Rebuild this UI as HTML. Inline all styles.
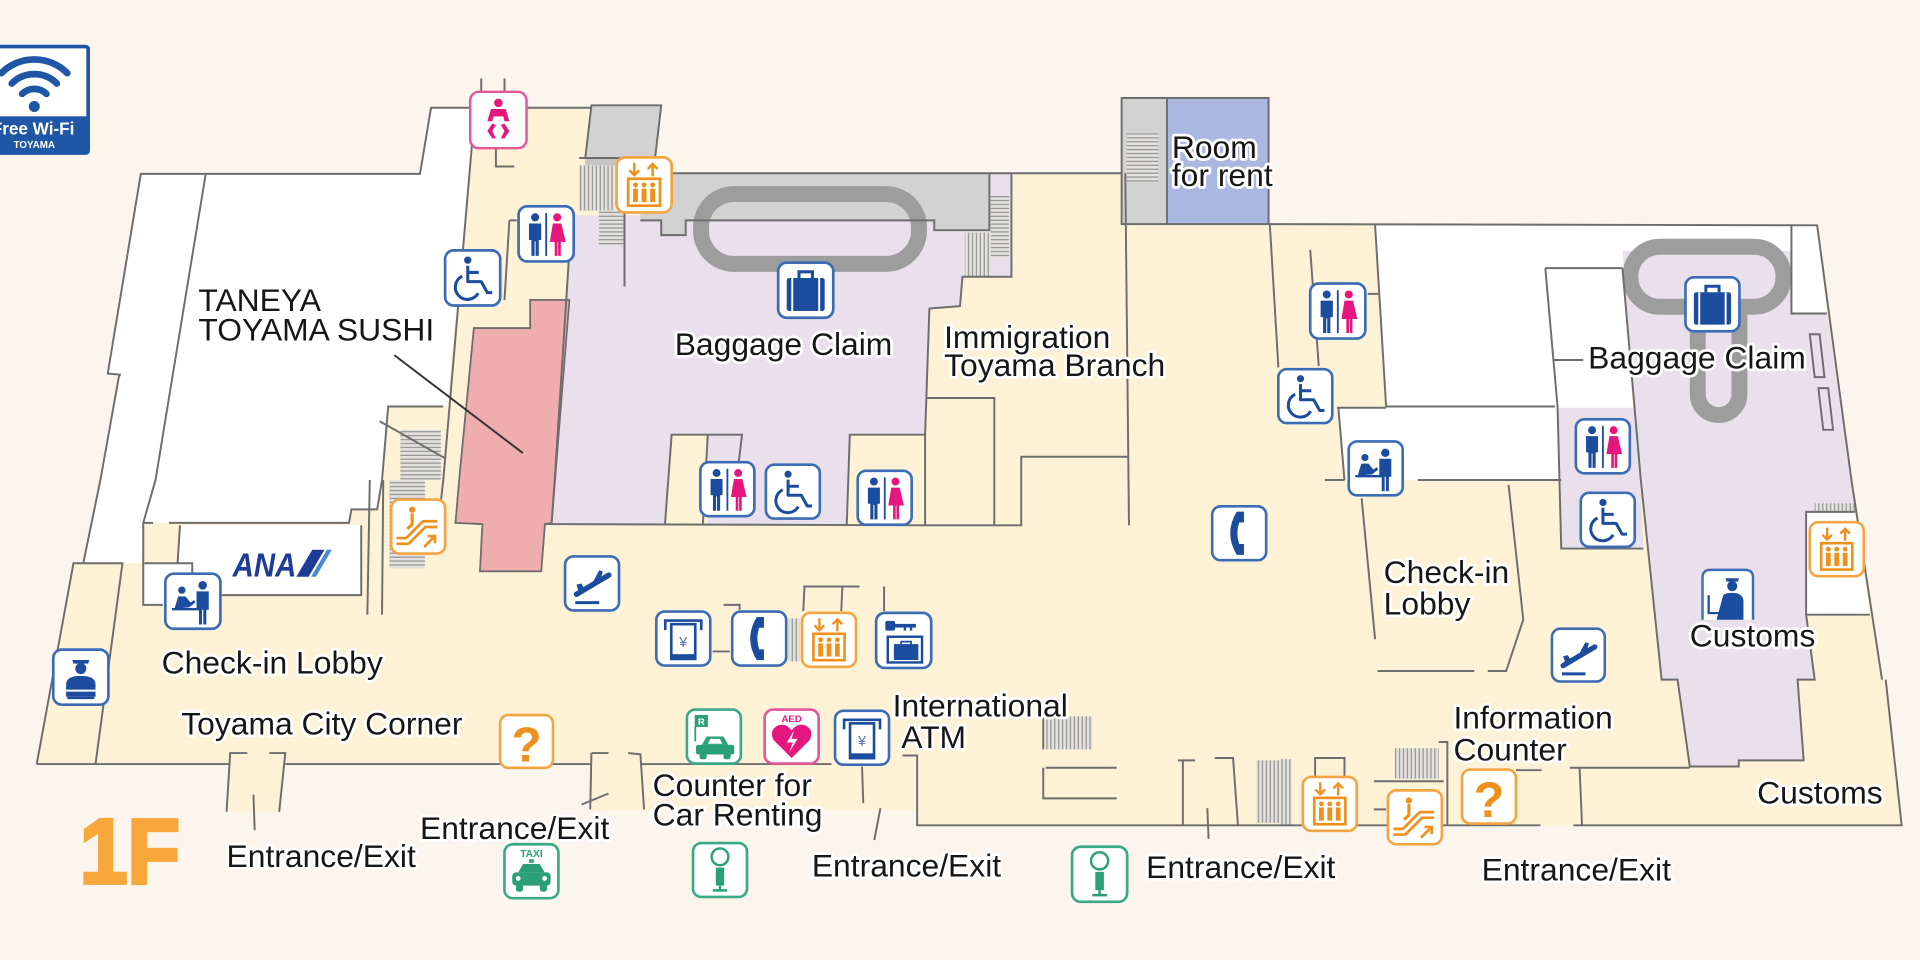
<!DOCTYPE html>
<html><head><meta charset="utf-8"><style>
html,body{margin:0;padding:0;background:#fcf5ee;}
svg{display:block;}
.lb{font-family:"Liberation Sans",Arial,sans-serif;font-size:26px;fill:#161616;stroke:#fff;stroke-width:4.5;paint-order:stroke;stroke-linejoin:round;}
.w{fill:none;stroke:#6d6d6d;stroke-width:1.6;stroke-linejoin:miter;}
</style></head><body>
<svg width="1920" height="960" viewBox="0 0 1568 784" xmlns="http://www.w3.org/2000/svg">
<defs>
<pattern id="hs" width="4" height="3.2" patternUnits="userSpaceOnUse"><rect width="4" height="3.2" fill="#e4e2de"/><line x1="0" y1="0.6" x2="4" y2="0.6" stroke="#8a8a8a" stroke-width="0.9"/></pattern>
<pattern id="vs" width="3.2" height="4" patternUnits="userSpaceOnUse"><rect width="3.2" height="4" fill="#e4e2de"/><line x1="0.6" y1="0" x2="0.6" y2="4" stroke="#8a8a8a" stroke-width="0.9"/></pattern>
<symbol id="i-toilet" viewBox="0 0 48 48"><rect x="1.5" y="1.5" width="45" height="45" rx="7" fill="#fff" stroke="#3c6db4" stroke-width="2.2"/>
<circle cx="15" cy="10.5" r="3.3" fill="#1c4c9d"/><path d="M10 15.5h10v13.5h-2v13h-2.6v-12h-0.8v12h-2.6v-13h-2z" fill="#1c4c9d"/>
<rect x="23.3" y="7" width="1.5" height="35" fill="#1c4c9d"/>
<circle cx="33" cy="10.5" r="3.3" fill="#e5177f"/><path d="M29.5 15.5h7l3.5 15h-4v11.5h-2.2v-11.5h-0.6v11.5h-2.2v-11.5h-4z" fill="#e5177f"/></symbol>
<symbol id="i-wheel" viewBox="0 0 48 48"><rect x="1.5" y="1.5" width="45" height="45" rx="7" fill="#fff" stroke="#3c6db4" stroke-width="2.2"/>
<circle cx="20" cy="9.5" r="3" fill="#1c4c9d"/><path d="M20 14v13h11l5 9h4M20 19.5h9" fill="none" stroke="#1c4c9d" stroke-width="2.5" stroke-linejoin="round"/>
<path d="M15.5 22.5a10 10 0 1 0 13 14" fill="none" stroke="#1c4c9d" stroke-width="2.5"/></symbol>
<symbol id="i-bag" viewBox="0 0 48 48"><rect x="1.5" y="1.5" width="45" height="45" rx="7" fill="#fff" stroke="#3c6db4" stroke-width="2.2"/>
<rect x="8.5" y="14" width="31" height="27" rx="2" fill="#1c4c9d"/><path d="M18.5 14v-5h11v5" fill="none" stroke="#1c4c9d" stroke-width="2.5"/><path d="M13 14v27M35 14v27" stroke="#fff" stroke-width="1.6"/></symbol>
<symbol id="i-phone" viewBox="0 0 48 48"><rect x="1.5" y="1.5" width="45" height="45" rx="7" fill="#fff" stroke="#3c6db4" stroke-width="2.2"/>
<path d="M22 6L28 6L28 15L24 15Q21 24 24 33L28 33L28 42L22 42Q11 24 22 6Z" fill="#1c4c9d"/></symbol>
<symbol id="i-elev" viewBox="0 0 48 48"><rect x="1.5" y="1.5" width="45" height="45" rx="7" fill="#fff" stroke="#f4a443" stroke-width="2.2"/>
<path d="M16 6v10M12 12l4 4 4-4M31 17V7M27 11l4-4 4 4" fill="none" stroke="#f0901c" stroke-width="2"/>
<rect x="11" y="19" width="26" height="22" fill="none" stroke="#f0901c" stroke-width="2.2"/>
<g fill="#f0901c"><circle cx="17" cy="24" r="2"/><circle cx="24" cy="24" r="2"/><circle cx="31" cy="24" r="2"/><rect x="15" y="27" width="4" height="11"/><rect x="22" y="27" width="4" height="11"/><rect x="29" y="27" width="4" height="11"/></g></symbol>
<symbol id="i-esc" viewBox="0 0 48 48"><rect x="1.5" y="1.5" width="45" height="45" rx="7" fill="#fff" stroke="#f4a443" stroke-width="2.2"/>
<path d="M6 36H15L29 22H40" fill="none" stroke="#f0901c" stroke-width="7" stroke-linejoin="round"/><path d="M6 36H15L29 22H40" fill="none" stroke="#fff" stroke-width="2.5" stroke-linejoin="round"/>
<circle cx="19" cy="10" r="2.6" fill="#f0901c"/><path d="M19 13v9l-4 4" stroke="#f0901c" stroke-width="2.6" fill="none"/>
<path d="M29 41L38 32M32 32H38V38" stroke="#f0901c" stroke-width="2.2" fill="none"/></symbol>
<symbol id="i-dep" viewBox="0 0 48 48"><rect x="1.5" y="1.5" width="45" height="45" rx="7" fill="#fff" stroke="#3c6db4" stroke-width="2.2"/>
<path d="M11 33L38 17" stroke="#1c4c9d" stroke-width="4.5" stroke-linecap="round"/><path d="M23 26L30 13L33 14L30 24Z M13 31L11 25L15 24L18 29Z" fill="#1c4c9d"/>
<path d="M10 40H30" stroke="#1c4c9d" stroke-width="2.5"/></symbol>
<symbol id="i-check" viewBox="0 0 48 48"><rect x="1.5" y="1.5" width="45" height="45" rx="7" fill="#fff" stroke="#3c6db4" stroke-width="2.2"/>
<g fill="#1c4c9d"><circle cx="15" cy="15" r="3"/><path d="M9 30L12 20H18L22 25L25 23L26 25L21 29Z"/><circle cx="32" cy="11" r="3.5"/><path d="M27 16H37V31H35V43H32.5V31H31.5V43H29V31H27Z"/></g>
<path d="M7 30.5H30" stroke="#1c4c9d" stroke-width="2"/></symbol>
<symbol id="i-off" viewBox="0 0 48 48"><rect x="1.5" y="1.5" width="45" height="45" rx="7" fill="#fff" stroke="#3c6db4" stroke-width="2.2"/>
<g fill="#1c4c9d"><path d="M17 10H31L30 13H18Z"/><circle cx="24" cy="17" r="4.5"/><path d="M12 40V30Q12 23 24 23Q36 23 36 30V40Z"/></g><path d="M12 35H36" stroke="#fff" stroke-width="1.6"/><path d="M13 41H35" stroke="#1c4c9d" stroke-width="2"/></symbol>
<symbol id="i-cust" viewBox="0 0 48 48"><path d="M1.5 46V8.5Q1.5 1.5 8.5 1.5H39.5Q46.5 1.5 46.5 8.5V46" fill="#fff" stroke="#3c6db4" stroke-width="2.2"/>
<g fill="#1c4c9d"><path d="M22 9H34L33 12H23Z"/><circle cx="28" cy="16" r="4.5"/><path d="M14 46L20 24Q22 22 28 22Q38 22 38 30V46Z"/></g><path d="M7 24V40H18" stroke="#1c4c9d" stroke-width="2" fill="none"/></symbol>
<symbol id="i-q" viewBox="0 0 48 48"><rect x="1.5" y="1.5" width="45" height="45" rx="7" fill="#fff" stroke="#f4a443" stroke-width="2.2"/>
<text x="24" y="41" text-anchor="middle" font-family="Liberation Sans,Arial,sans-serif" font-weight="bold" font-size="42" fill="#f0901c">?</text></symbol>
<symbol id="i-taxi" viewBox="0 0 48 48"><rect x="1.5" y="1.5" width="45" height="45" rx="7" fill="#fff" stroke="#3aa987" stroke-width="2.2"/>
<text x="24" y="12" text-anchor="middle" font-family="Liberation Sans,Arial,sans-serif" font-weight="bold" font-size="8.5" fill="#2a9f78">TAXI</text>
<g fill="#2a9f78"><rect x="22" y="14" width="4" height="3"/><path d="M13 25L17 18H31L35 25Z"/><rect x="8" y="25" width="32" height="11" rx="3"/><rect x="11" y="35" width="6" height="6" rx="2"/><rect x="31" y="35" width="6" height="6" rx="2"/></g>
<circle cx="13" cy="30" r="2" fill="#fff"/><circle cx="35" cy="30" r="2" fill="#fff"/></symbol>
<symbol id="i-info" viewBox="0 0 48 48"><rect x="1.5" y="1.5" width="45" height="45" rx="7" fill="#fff" stroke="#3aa987" stroke-width="2.2"/>
<circle cx="24" cy="13" r="7" fill="none" stroke="#2a9f78" stroke-width="2"/><rect x="20.5" y="22" width="7" height="15" fill="#2a9f78"/><path d="M24 37V41M18 41H30" stroke="#2a9f78" stroke-width="2"/></symbol>
<symbol id="i-atm" viewBox="0 0 48 48"><rect x="1.5" y="1.5" width="45" height="45" rx="7" fill="#fff" stroke="#3c6db4" stroke-width="2.2"/>
<path d="M9 17V9H39V17" fill="none" stroke="#1c4c9d" stroke-width="2.2"/><rect x="14" y="12" width="20" height="29" fill="#fff" stroke="#1c4c9d" stroke-width="2.2"/><rect x="14" y="37" width="20" height="4" fill="#1c4c9d"/>
<text x="24" y="31" text-anchor="middle" font-family="Liberation Sans,Arial,sans-serif" font-size="12" fill="#5a6fb0">¥</text></symbol>
<symbol id="i-lock" viewBox="0 0 48 48"><rect x="1.5" y="1.5" width="45" height="45" rx="7" fill="#fff" stroke="#3c6db4" stroke-width="2.2"/>
<g fill="#1c4c9d"><rect x="9" y="8" width="8" height="8" rx="1.5"/><rect x="16" y="10.5" width="18" height="3"/><rect x="24" y="13" width="2" height="3"/><rect x="29" y="13" width="2" height="3"/><rect x="16" y="27" width="20" height="13"/></g>
<rect x="11" y="21" width="28" height="21" fill="none" stroke="#1c4c9d" stroke-width="2"/><path d="M22 27v-2h8v2" stroke="#1c4c9d" stroke-width="1.5" fill="none"/></symbol>
<symbol id="i-aed" viewBox="0 0 48 48"><rect x="1.5" y="1.5" width="45" height="45" rx="7" fill="#fff" stroke="#e2579a" stroke-width="2.2"/>
<text x="24" y="12" text-anchor="middle" font-family="Liberation Sans,Arial,sans-serif" font-weight="bold" font-size="8" fill="#e5177f">AED</text>
<path d="M24 42L9 27Q5 19 12 15Q19 12 24 19Q29 12 36 15Q43 19 39 27Z" fill="#e5177f"/><path d="M26 19L20 29H25L22 37L29 26H24Z" fill="#fff"/></symbol>
<symbol id="i-car" viewBox="0 0 48 48"><rect x="1.5" y="1.5" width="45" height="45" rx="7" fill="#fff" stroke="#3aa987" stroke-width="2.2"/>
<rect x="8" y="6" width="11" height="10" fill="#2a9f78"/><text x="13.5" y="14.5" text-anchor="middle" font-family="Liberation Sans,Arial,sans-serif" font-size="8" font-weight="bold" fill="#fff">R</text>
<path d="M8.5 16V28" stroke="#2a9f78" stroke-width="1.5"/>
<g fill="#2a9f78"><path d="M14 31L18 24H32L36 31Z"/><rect x="9" y="31" width="32" height="8" rx="2"/><rect x="12" y="38" width="6" height="5" rx="2"/><rect x="32" y="38" width="6" height="5" rx="2"/></g>
<path d="M19 30L21 26H29L31 30Z" fill="#fff"/></symbol>
</defs>

<rect x="0" y="0" width="1568" height="784" fill="#fcf5ee"/>

<!-- base floor -->
<path d="M115,142 L343,142 L352,88 L483,88 L483,86 L540,86 L536,141.5 L916,141.5 L916,80 L1036,80 L1036,183 L1484,184 L1512,392 L1537,555 L1540,555 L1553,674 L749,674 L749,662 L483,662 L483,624 L30,624 L60,460 L68,460 L82,392 L97,308 L98,306 L88,305 Z" fill="#fef2d6"/>
<path d="M188,620 L233,620 L228,663 L185,663 Z" fill="#fef2d6"/>

<!-- white areas -->
<path d="M115,142 L343,142 L352,88 L388,88 L365,332 L317,332 L312,392 L308,416 L287,416 L285,427 L118,427 L115,460 L68,460 L82,392 L97,308 L98,306 L88,305 Z" fill="#fff"/>
<path d="M147,429 L295,429 L295,486 L157,486 L157,460 L145,460 Z" fill="#fff"/>
<path d="M118,460 L157,460 L157,494 L117,494 Z" fill="#fff"/>
<path d="M1123,184 L1484,184 L1492,256 L1463,256 L1463,219 L1325,219 L1338,392 L1098,392 L1093,333 L1132,332 Z" fill="#fff"/>

<!-- pink restaurant -->
<path d="M387,268 L433,268 L433,245 L465,245 L450.5,427 L445,428 L442,466.5 L392,466.5 L394,428 L372,427 L375,392 Z" fill="#f0adb0" stroke="#6d6d6d" stroke-width="1.4"/>

<!-- purple baggage claim 1 -->
<path d="M467,176 L808,176 L808,141.5 L826,141.5 L826,226 L786,226 L784,250 L759,252 L755.5,355 L755.5,429 L450,429 L453,392 Z" fill="#e9e0ec"/>
<path d="M548.5,355 L578,355 L578,429 L543,429 Z" fill="#fef2d6"/>
<path d="M694,355 L755.5,355 L755.5,429 L691.5,429 Z" fill="#fef2d6"/>
<!-- re-draw pink over purple edge -->
<path d="M387,268 L433,268 L433,245 L465,245 L450.5,427 L445,428 L442,466.5 L392,466.5 L394,428 L372,427 L375,392 Z" fill="#f0adb0" stroke="#6d6d6d" stroke-width="1.4"/>
<!-- gray -->
<path d="M483,86 L540,86 L535,129 L478,129 Z" fill="#d2d2d2"/>
<path d="M523,141.5 L808,141.5 L808,188 L763,188 L763,180 L560,180 L560,192 L540,192 L540,180 L523,180 Z" fill="#d2d2d2"/>
<rect x="478" y="129" width="30" height="6" fill="#c4c4c4"/>
<!-- belt 1 -->
<rect x="572.5" y="158.5" width="178" height="57" rx="27" fill="none" stroke="#9d9d9d" stroke-width="13"/>

<!-- purple baggage claim 2 -->
<path d="M1325,205 L1463,205 L1463,256 L1492,256 L1512,392 L1515,418 L1475,418 L1475,502 L1482,555 L1468,555 L1473,621 L1420,621 L1420,626 L1380,626 L1370,555 L1357,555 L1340,392 Z" fill="#e9e0ec"/>
<path d="M1272,333 L1338,333 L1342,448 L1275,448 Z" fill="#e9e0ec"/>
<path d="M1475,418 L1515,418 L1527,502 L1475,502 Z" fill="#fff"/>
<rect x="1331.5" y="201.5" width="125" height="49" rx="24" fill="none" stroke="#9d9d9d" stroke-width="13"/>
<path d="M1386.5,248 L1386.5,322 A17,17 0 0 0 1420.5,322 L1420.5,248" fill="none" stroke="#9d9d9d" stroke-width="13"/>

<!-- room block -->
<rect x="916" y="80" width="37" height="103" fill="#d2d2d2"/>
<rect x="953" y="80" width="83" height="103" fill="#aab7e0"/>

<!-- stairs -->
<rect x="473" y="135" width="29" height="37" fill="url(#vs)"/>
<rect x="489" y="172" width="21" height="29" fill="url(#hs)"/>
<rect x="788" y="190" width="21" height="36" fill="url(#vs)"/>
<rect x="809" y="160" width="15" height="50" fill="url(#hs)"/>
<rect x="920" y="109" width="26" height="40" fill="url(#hs)"/>
<rect x="327" y="351" width="33" height="41" fill="url(#hs)"/>
<rect x="318" y="392" width="29" height="72" fill="url(#hs)"/>
<rect x="854" y="585" width="38" height="27" fill="url(#vs)"/>
<rect x="1026" y="621" width="19" height="51" fill="url(#vs)"/>
<rect x="1045" y="620" width="10" height="54" fill="url(#vs)"/>
<rect x="1139" y="611" width="36" height="25" fill="url(#vs)"/>
<rect x="644" y="505" width="9" height="35" fill="url(#vs)"/>
<rect x="1482" y="411" width="33" height="7" fill="url(#vs)"/>

<!-- walls -->
<g class="w">
<path d="M30,624 L60,460 L100,460 L78,624"/>
<path d="M68,460 L82,392 L97,308 L98,306 L88,305 L115,142 L343,142 L352,88 L383,88"/>
<path d="M431,88 L483,88"/>
<path d="M168,142 L127,392 L117,427 L117,494 L133,494"/>
<path d="M117,427 L125,427 M138,427 L285,427 L287,416 L308,416 L312,392 L317,332 L362,332"/>
<path d="M147,429 L145,460 M118,460 L157,460 L157,486 L295,486 L295,429"/>
<path d="M388,88 L362,392 L360,410"/>
<path d="M310,344 L363,374"/>
<path d="M302,392 L300,502 M313,392 L312,502"/>
<path d="M478,129 L483,86 L540,86 L535,129 Z"/>
<path d="M473,129 L508,129"/>
<path d="M535,141.5 L916,141.5"/>
<path d="M523,180 L540,180 L540,192 L560,192 L560,180 L763,180 L763,188 L808,188 L808,141.5"/>
<path d="M510,174 L510,234"/>
<path d="M467,174 L453,392 L450.5,427"/>
<path d="M445,428 L755.5,429"/>
<path d="M826,141.5 L826,226 L786,226 L784,250 L759,252 L755.5,355 L755.5,429"/>
<path d="M543,429 L548.5,355 L578,355 L574,429 M578,355 L606,355 L603,380 M691.5,429 L694,355 L755.5,355"/>
<path d="M757,325 L812,325 L812,429 M755.5,429 L834,429 L834,373 L921,373 M919,141.5 L922,429"/>
<path d="M405,121 L405,136 L420,136 M393,64 L393,75 M412,64 L412,75 M416,180 L422,180 M416,180 L412,245"/>
<rect x="916" y="80" width="120" height="103"/>
<path d="M953,80 L953,183"/>
<path d="M1037,183 L1044,300"/>
<path d="M1036,183 L1484,184 L1512,392 L1537,555 M1540,555 L1553,674 L1285,674 M1258,674 L749,674 L749,617 L737,617"/>
<path d="M1123,184 L1132,332 L1270,332 M1262,219 L1272,332 L1275,448 L1342,448 M1262,219 L1325,219 M1268,294 L1293,294"/>
<path d="M1092,333 L1132,333"/>
<path d="M1325,219 L1340,392 L1357,555 L1370,555 L1380,626 L1420,626 L1420,621 L1473,621 L1468,555 L1482,555 L1475,502 L1527,502"/>
<path d="M1463,184 L1463,256 L1492,256 M1475,502 L1475,418 L1515,418"/>
<path d="M1093,333 L1098,392 M1082,392 L1098,392 M1158,392 L1275,392"/>
<path d="M1112,407 L1123,522 M1232,396 L1244,506 L1230,548 L1215,548 M1204,548 L1125,548"/>
<path d="M1070,204 L1077,299 M1117,240 L1127,240"/>
<path d="M1238,629 L1259,629 M1282,627 L1380,627 M1290,627 L1292,674"/>
<path d="M854,627 L912,627 M852,627 L852,652 L912,652 M852,585 L852,612"/>
<path d="M962,621 L976,621 M966,621 L966,674 M992,619 L1007,619 L1011,674 M986,660 L987,685"/>
<path d="M1074,634 L1074,619 L1098,619 L1098,634"/>
<path d="M1122,638 L1179,638 M1122,661 L1132,661 M1175,606 L1182,606 L1182,674"/>
<path d="M30,624 L188,624 M233,624 L483,624"/>
<path d="M202,615 L188,615 L185,663 M220,615 L233,615 L228,663 M207,649 L208,678"/>
<path d="M483,615 L482,661 M483,615 L497,615 M513,615 L523,616 L526,661 M475,657 L497,648 M523,624 L679,624"/>
<path d="M704,626 L705,656 M719,660 L714,686"/>
<path d="M656,479 L702,479 M657,479 L656,499 M688,479 L687,499 M722,479 L722,499 M591,494 L604,494 L604,498 M582,532 L596,532"/>
<path d="M1478,273 L1486,273 L1490,308 L1482,308 Z M1485,317 L1493,317 L1497,351 L1489,351 Z"/>
<path d="M322,290 L427,370" stroke="#333"/>
</g>

<!-- Wi-Fi -->
<rect x="-6" y="38" width="78" height="87" rx="2" fill="#fff" stroke="#1f56a5" stroke-width="3"/>
<rect x="-6" y="95" width="78" height="30" fill="#1f56a5"/>
<g fill="none" stroke="#1f56a5" stroke-width="5.5" stroke-linecap="round">
<path d="M18.1,76.7 A14,14 0 0 1 37.9,76.7"/>
<path d="M9.6,68.2 A26,26 0 0 1 46.4,68.2"/>
<path d="M1.1,59.7 A38,38 0 0 1 54.9,59.7"/>
</g>
<circle cx="28" cy="87" r="4.5" fill="#1f56a5"/>
<text x="27" y="110" text-anchor="middle" font-family="Liberation Sans,Arial,sans-serif" font-weight="bold" font-size="14" fill="#fff">Free Wi-Fi</text>
<text x="28" y="121" text-anchor="middle" font-family="Liberation Sans,Arial,sans-serif" font-weight="bold" font-size="8" fill="#fff">TOYAMA</text>

<!-- ANA -->
<text x="190" y="471" font-family="Liberation Sans,Arial,sans-serif" font-weight="bold" font-style="italic" font-size="27" fill="#1e3b98" textLength="52" lengthAdjust="spacingAndGlyphs">ANA</text>
<path d="M242,471 L252,471 L265,449 L255,449 Z" fill="#1e3b98"/>
<path d="M254,471 L258,471 L271,449 L267,449 Z" fill="#4a8ad0"/>

<!-- icons -->
<rect x="384" y="75" width="46" height="46" rx="7" fill="#fff" stroke="#e2579a" stroke-width="2"/>
<g fill="#e5177f"><circle cx="407" cy="84" r="3.5"/><path d="M401 89h12l3 10h-4l-1 -4h-8l-1 4h-4z"/><path d="M402 101l-4 6 4 6h3l-3-6 3-5zM412 101l4 6-4 6h-3l3-6-3-5z"/></g>
<use href="#i-elev" x="502" y="127" width="48" height="48"/>
<use href="#i-toilet" x="422" y="167" width="48" height="48"/>
<use href="#i-wheel" x="362" y="203" width="48" height="48"/>
<use href="#i-bag" x="634" y="213" width="48" height="48"/>
<use href="#i-esc" x="318" y="406" width="47" height="48"/>
<use href="#i-dep" x="460" y="453" width="47" height="47"/>
<use href="#i-check" x="133" y="467" width="49" height="48"/>
<use href="#i-off" x="42" y="529" width="48" height="48"/>
<use href="#i-q" x="407" y="582" width="46" height="47"/>
<use href="#i-taxi" x="410" y="688" width="48" height="47"/>
<use href="#i-toilet" x="570" y="376" width="48" height="47"/>
<use href="#i-wheel" x="623" y="378" width="49" height="47"/>
<use href="#i-toilet" x="698" y="383" width="49" height="47"/>
<use href="#i-atm" x="534" y="498" width="48" height="47"/>
<use href="#i-phone" x="596" y="498" width="48" height="47"/>
<use href="#i-elev" x="653" y="499" width="48" height="47"/>
<use href="#i-lock" x="714" y="499" width="48" height="48"/>
<use href="#i-car" x="559" y="578" width="48" height="47"/>
<use href="#i-aed" x="622" y="578" width="49" height="47"/>
<use href="#i-atm" x="680" y="579" width="48" height="47"/>
<use href="#i-info" x="564" y="687" width="48" height="47"/>
<use href="#i-info" x="874" y="690" width="48" height="48"/>
<use href="#i-phone" x="988" y="412" width="48" height="47"/>
<use href="#i-toilet" x="1068" y="230" width="49" height="48"/>
<use href="#i-wheel" x="1042" y="300" width="48" height="47"/>
<use href="#i-check" x="1099" y="359" width="49" height="47"/>
<use href="#i-bag" x="1374" y="225" width="49" height="47"/>
<use href="#i-toilet" x="1285" y="341" width="48" height="47"/>
<use href="#i-wheel" x="1289" y="401" width="48" height="47"/>
<use href="#i-elev" x="1476" y="425" width="48" height="47"/>
<use href="#i-cust" x="1387" y="464" width="48" height="44"/>
<use href="#i-dep" x="1265" y="512" width="48" height="46"/>
<use href="#i-q" x="1192" y="627" width="48" height="47"/>
<use href="#i-elev" x="1062" y="633" width="48" height="47"/>
<use href="#i-esc" x="1132" y="644" width="47" height="47"/>

<!-- 1F -->
<text x="65" y="721" font-family="Liberation Sans,Arial,sans-serif" font-weight="bold" font-size="75" fill="#f8a83a" stroke="#f8a83a" stroke-width="3" textLength="82" lengthAdjust="spacingAndGlyphs">1F</text>

<!-- labels -->
<text class="lb" x="162" y="254">TANEYA</text>
<text class="lb" x="162" y="278">TOYAMA SUSHI</text>
<text class="lb" x="551" y="290">Baggage Claim</text>
<text class="lb" x="771" y="284">Immigration</text>
<text class="lb" x="771" y="307">Toyama Branch</text>
<text class="lb" x="957" y="129">Room</text>
<text class="lb" x="957" y="152">for rent</text>
<text class="lb" x="1297" y="301">Baggage Claim</text>
<text class="lb" x="132" y="550">Check-in Lobby</text>
<text class="lb" x="148" y="600">Toyama City Corner</text>
<text class="lb" x="185" y="708">Entrance/Exit</text>
<text class="lb" x="343" y="685">Entrance/Exit</text>
<text class="lb" x="533" y="650">Counter for</text>
<text class="lb" x="533" y="674">Car Renting</text>
<text class="lb" x="729" y="585">International</text>
<text class="lb" x="736" y="611">ATM</text>
<text class="lb" x="663" y="716">Entrance/Exit</text>
<text class="lb" x="936" y="717">Entrance/Exit</text>
<text class="lb" x="1130" y="476">Check-in</text>
<text class="lb" x="1130" y="502">Lobby</text>
<text class="lb" x="1187" y="595">Information</text>
<text class="lb" x="1187" y="621">Counter</text>
<text class="lb" x="1380" y="528">Customs</text>
<text class="lb" x="1435" y="656">Customs</text>
<text class="lb" x="1210" y="719">Entrance/Exit</text>
</svg>
</body></html>
